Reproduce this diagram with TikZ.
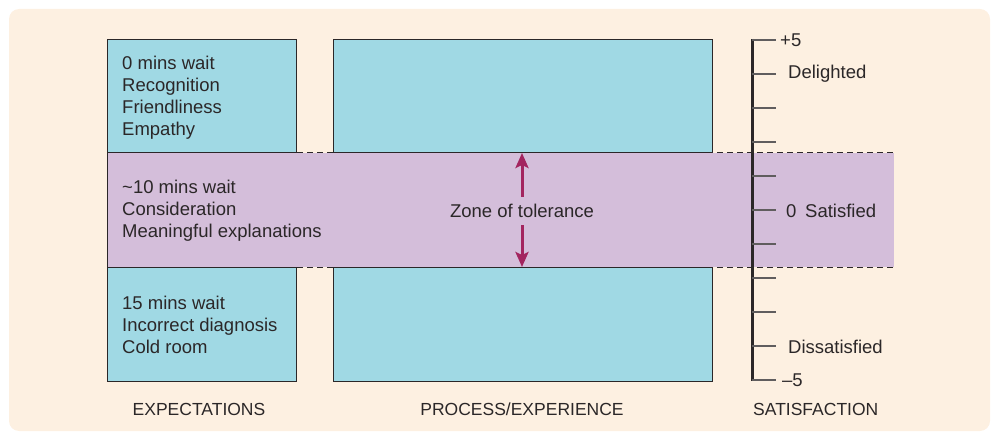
\documentclass[tikz,border=0pt]{standalone}
\usepackage{fontspec}
\setmainfont{Liberation Sans}
\usetikzlibrary{arrows.meta}
\definecolor{paper}{HTML}{FDF0E1}
\definecolor{boxblue}{HTML}{A0D9E4}
\definecolor{tolpurple}{HTML}{D4BEDA}
\definecolor{tolarrow}{HTML}{A3255F}
\definecolor{ink}{HTML}{2B2728}

\begin{document}
\begin{tikzpicture}[x=1pt, y=-1pt, font=\fontsize{18.5}{22}\selectfont, text=ink,
  txt/.style={anchor=west, align=left, inner sep=0pt},
  caption/.style={inner sep=0pt, font=\fontsize{17.5}{21}\selectfont},
  blk/.style={draw=ink, fill=boxblue, line width=1pt},
  tol/.style={tolarrow, line width=3pt, -{Stealth[length=15pt,width=13pt,inset=3pt]}},
  tickmark/.style={draw=ink!75, line width=1.8pt}]

\useasboundingbox (0,0) rectangle (997,433);
\fill[paper, rounded corners=10pt] (9,9) rectangle (990,431);

% zone of tolerance band
\fill[tolpurple] (107,153) rectangle (894,267);
\draw[ink, line width=1pt, dash pattern=on 6pt off 4pt] (107,153) -- (894,153) (107,267) -- (894,267);
\draw[ink, line width=1pt] (107,153) -- (107,267);

% boxes
\draw[blk] (107,40) rectangle (296,153);
\draw[blk] (107,267) rectangle (296,381);
\draw[blk] (333,40) rectangle (712,153);
\draw[blk] (333,267) rectangle (712,381);

\node[txt] (high) at (122,98) {0 mins wait\\Recognition\\Friendliness\\Empathy};
\node[txt] (mid) at (122,211) {\textasciitilde10 mins wait\\Consideration\\Meaningful explanations};
\node[txt] (low) at (122,325) {15 mins wait\\Incorrect diagnosis\\Cold room};

% arrows
\coordinate (ztop) at (522,153);
\coordinate (zbot) at (522,267);
\node[inner sep=0pt, minimum height=28pt] (zone) at (522,211) {Zone of tolerance};
\draw[tol] (zone.north) -- (ztop);
\draw[tol] (zone.south) -- (zbot);

% satisfaction scale
\draw[ink, line width=3pt] (752,39) -- (752,381);
\foreach \i in {0,...,10}
  \draw[tickmark] (752,40+34*\i) -- ++(24,0);

\node[txt] (plus) at (780,40) {+5};
\node[txt] (delight) at (788,74) {Delighted};
\node[txt] (zero) at (786,211) {0};
\node[txt] (sat) at (805,211) {Satisfied};
\node[txt] (dissat) at (788,347) {Dissatisfied};
\node[txt] (minus) at (782,380) {\textendash5};

\node[caption] (expect) at (199,409) {EXPECTATIONS};
\node[caption] (process) at (522,409) {PROCESS/EXPERIENCE};
\node[caption, anchor=west] (satis) at (753,409) {SATISFACTION};

\end{tikzpicture}
\end{document}
